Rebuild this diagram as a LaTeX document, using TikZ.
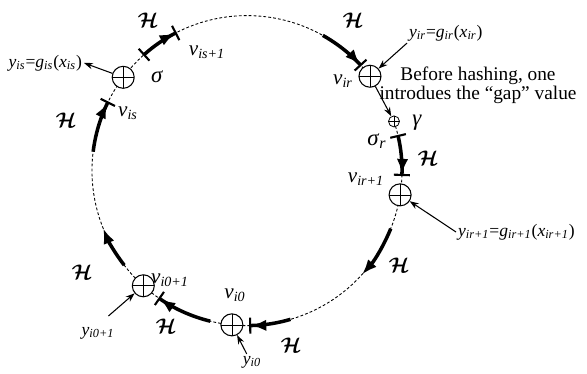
\documentclass[tikz,border=0pt]{standalone}
\usepackage{amsmath}
\usepackage{fontspec}
\setmainfont{Liberation Serif}
\usetikzlibrary{arrows.meta,calc}
\newcommand{\isub}[2]{\textit{#1}\textsubscript{\textit{#2}}}
\tikzset{
  ring/.style={line width=0.5pt, dash pattern=on 1.6pt off 1.2pt},
  hpush/.style={line width=2pt, -{Latex[length=3mm,width=2.3mm]}},
  hbar/.style={line width=2pt, -{Latex[length=3mm,width=2.3mm]Bar[width=3.2mm,line width=1.2pt]}},
  hboth/.style={line width=2pt, {Bar[width=3.2mm,line width=1.2pt]}-{Latex[length=3mm,width=2.3mm]Bar[width=3.2mm,line width=1.2pt]}},
  ptr/.style={line width=0.6pt, -{Stealth[length=1.8mm,width=1.3mm]}},
  oplus/.style={circle, draw, fill=white, minimum size=0.44cm, inner sep=0pt, line width=0.6pt,
    path picture={\draw[line width=0.35pt] (path picture bounding box.north) -- (path picture bounding box.south)
      (path picture bounding box.west) -- (path picture bounding box.east);}},
  gapop/.style={oplus, minimum size=0.22cm, line width=0.45pt},
  lab/.style={font=\fontsize{12}{14}\selectfont, inner sep=1pt},
  ylab/.style={font=\fontsize{10}{12}\selectfont, inner sep=1pt},
  hlab/.style={font=\fontsize{13}{15}\selectfont, inner sep=1pt},
}
\begin{document}
\begin{tikzpicture}[x=0.02cm, y=0.02cm]
  \useasboundingbox (0,0) rectangle (587,374);
  \coordinate (O) at (247,203.4);
  % the ring, dashed, and the hashing steps on it
  \draw[ring] (O) ++(18.5:155) arc[start angle=18.5, end angle=-322.5, radius=155];
  \draw[hbar] (O) ++(60.7:155) arc[start angle=60.7, end angle=42.5, radius=155];
  \draw[hboth] (O) ++(13.3:155) arc[start angle=13.3, end angle=-2, radius=155];
  \draw[hpush] (O) ++(-22:155) arc[start angle=-22, end angle=-42, radius=155];
  \draw[hbar] (O) ++(-73.7:155) arc[start angle=-73.7, end angle=-89.2, radius=155];
  \draw[hbar] (O) ++(-103.7:155) arc[start angle=-103.7, end angle=-124.8, radius=155];
  \draw[hpush] (O) ++(-142.4:155) arc[start angle=-142.4, end angle=-158, radius=155];
  \draw[hbar] (O) ++(173:155) arc[start angle=173, end angle=153.5, radius=155];
  \draw[hboth] (O) ++(132:155) arc[start angle=132, end angle=117, radius=155];

  \node[oplus] (vis) at ($(O)+(143:155)$) {};
  \node[oplus] (vir) at ($(O)+(37.5:155)$) {};
  \node[gapop] (gam) at ($(O)+(18.5:155)$) {};
  \node[oplus] (vir1) at ($(O)+(-9:155)$) {};
  \node[oplus] (vi0) at ($(O)+(-95.6:155)$) {};
  \node[oplus] (vi01) at ($(O)+(-132:155)$) {};

  \node[hlab] (h1) at (353,354) {$\boldsymbol{\mathcal{H}}$};
  \node[hlab] (h2) at (428,216) {$\boldsymbol{\mathcal{H}}$};
  \node[hlab] (h3) at (399,109) {$\boldsymbol{\mathcal{H}}$};
  \node[hlab] (h4) at (291,29) {$\boldsymbol{\mathcal{H}}$};
  \node[hlab] (h5) at (166,48) {$\boldsymbol{\mathcal{H}}$};
  \node[hlab] (h6) at (82,102) {$\boldsymbol{\mathcal{H}}$};
  \node[hlab] (h7) at (66,254) {$\boldsymbol{\mathcal{H}}$};
  \node[hlab] (h8) at (148,354) {$\boldsymbol{\mathcal{H}}$};

  \node[hlab] (sig) at (157,297) {\textit{σ}};
  \node[hlab] (sigr) at (377,233) {\isub{σ}{r}};
  \node[hlab] (gamlab) at (417,251) {\textit{γ}};

  \node[lab] (lvis1) at (207,322) {\isub{v}{is+1}};
  \node[lab] (lvis) at (128,261) {\isub{v}{is}};
  \node[lab] (lvir) at (343,293) {\isub{v}{ir}};
  \node[lab] (lvir1) at (366,195) {\isub{v}{ir+1}};
  \node[lab] (lvi0) at (235,79) {\isub{v}{i0}};
  \node[lab] (lvi01) at (170,94) {\isub{v}{i0+1}};

  \node[ylab, anchor=east] (yis) at (84,311) {\isub{y}{is}=\isub{g}{is}(\isub{x}{is})};
  \node[ylab, anchor=west] (yir) at (407,341) {\isub{y}{ir}=\isub{g}{ir}(\isub{x}{ir})};
  \node[ylab, anchor=west] (yir1) at (456,142) {\isub{y}{ir+1}=\isub{g}{ir+1}(\isub{x}{ir+1})};
  \node[ylab] (yi0) at (252,12) {\isub{y}{i0}};
  \node[ylab] (yi01) at (98,41) {\isub{y}{i0+1}};

  \node[font=\fontsize{11}{10}\selectfont, align=center] (note) at (478,289)
    {Before hashing, one\\introdues the ``gap'' value};

  \draw[ptr] (vir) -- (gam);
  \draw[ptr] (vis) -- (yis.east);
  \draw[ptr] (yir.south west) -- (vir);
  \draw[ptr] (yir1.west) -- (vir1);
  \draw[ptr] ([xshift=-3pt]yi0.north) -- (vi0);
  \draw[ptr] ($(yi01.north east)+(-8,9)$) -- (vi01);
\end{tikzpicture}
\end{document}
